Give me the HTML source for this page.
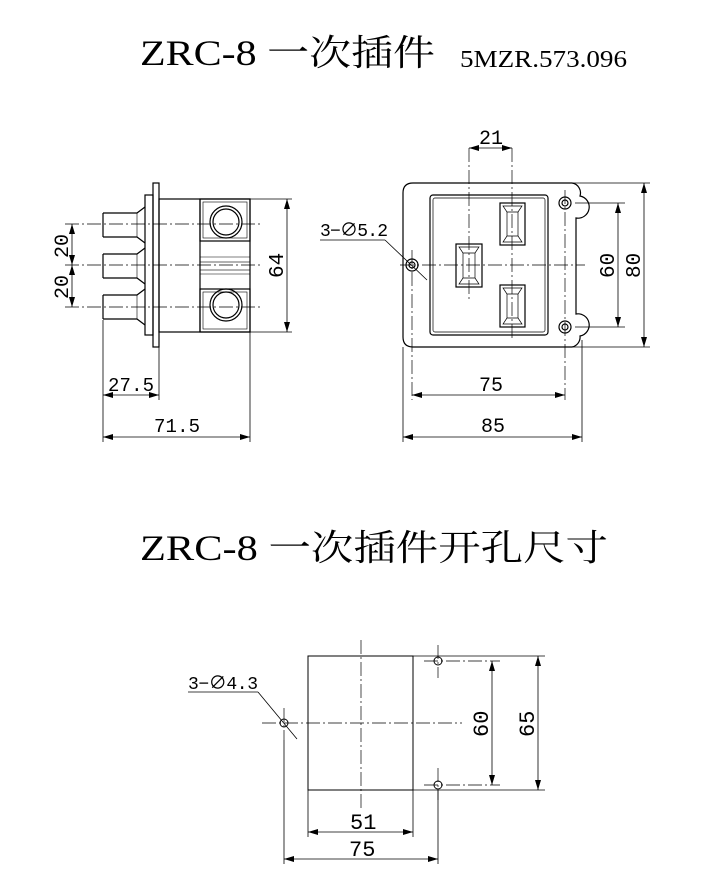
<!DOCTYPE html>
<html><head><meta charset="utf-8"><style>
html,body{margin:0;padding:0;background:#fff;}
svg{display:block}
text{font-family:"Liberation Serif","Noto Serif CJK SC",serif;fill:#000}
.d{font-family:"Liberation Mono","Noto Sans CJK SC",monospace}
</style></head><body>
<svg width="708" height="889" viewBox="0 0 708 889" xmlns="http://www.w3.org/2000/svg">
<defs>
<marker id="a" viewBox="0 0 10 6" refX="10" refY="3" markerWidth="10" markerHeight="6" orient="auto-start-reverse" markerUnits="userSpaceOnUse"><path d="M0,0 L10,3 L0,6z" fill="#000"/></marker>
</defs>
<text x="140" y="65" font-size="36" textLength="295" lengthAdjust="spacingAndGlyphs">ZRC-8 一次插件</text>
<text x="460" y="67" font-size="24" textLength="167" lengthAdjust="spacingAndGlyphs">5MZR.573.096</text>

<g stroke="#000" fill="none" stroke-width="1.2">
<rect x="153" y="183" width="6" height="164"/>
<rect x="145" y="195" width="8" height="140"/>
<rect x="159" y="199" width="91" height="133"/>
<line x1="200" y1="199" x2="200" y2="332"/>
<rect x="200" y="199" width="50" height="42"/>
<rect x="200" y="289" width="50" height="43"/>
<rect x="203" y="202" width="44" height="36" stroke-width="0.6"/>
<rect x="203" y="292" width="44" height="37" stroke-width="0.6"/>
<circle cx="226" cy="222" r="16"/><circle cx="226" cy="222" r="13"/>
<circle cx="226" cy="305" r="16"/><circle cx="226" cy="305" r="13"/>
<line x1="200" y1="257" x2="250" y2="257" stroke-width="0.6"/>
<line x1="200" y1="274" x2="250" y2="274" stroke-width="0.6"/>
<rect x="200" y="262" width="50" height="8" stroke-width="0.6"/>
<path d="M103,213 H137 L145,207 M103,237 H137 L145,243 M103,213 V237"/>
<path d="M103,254 H137 L145,248 M103,278 H137 L145,284 M103,254 V278"/>
<path d="M103,295 H137 L145,289 M103,319 H137 L145,325 M103,295 V319"/>
<line x1="137" y1="213" x2="137" y2="237" stroke-width="0.6"/>
<line x1="137" y1="254" x2="137" y2="278" stroke-width="0.6"/>
<line x1="137" y1="295" x2="137" y2="319" stroke-width="0.6"/>
</g>
<g stroke="#000" stroke-width="0.7" fill="none" stroke-dasharray="14,3,2,3">
<line x1="65" y1="224" x2="262" y2="224"/>
<line x1="65" y1="265" x2="262" y2="265"/>
<line x1="65" y1="307" x2="262" y2="307"/>
</g>
<g stroke="#000" stroke-width="0.8" fill="none">
<line x1="72" y1="224" x2="72" y2="265" marker-start="url(#a)" marker-end="url(#a)"/>
<line x1="72" y1="265" x2="72" y2="307" marker-start="url(#a)" marker-end="url(#a)"/>
<line x1="250" y1="199" x2="292" y2="199"/><line x1="250" y1="332" x2="292" y2="332"/>
<line x1="287" y1="199" x2="287" y2="332" marker-start="url(#a)" marker-end="url(#a)"/>
<line x1="103" y1="320" x2="103" y2="442"/>
<line x1="159" y1="347" x2="159" y2="400"/>
<line x1="250" y1="332" x2="250" y2="442"/>
<line x1="103" y1="395" x2="159" y2="395" marker-start="url(#a)" marker-end="url(#a)"/>
<line x1="103" y1="437" x2="250" y2="437" marker-start="url(#a)" marker-end="url(#a)"/>
</g>
<text class="d" x="108" y="391" font-size="19" textLength="46">27.5</text>
<text class="d" x="154" y="432" font-size="19" textLength="46">71.5</text>
<text class="d" font-size="20" transform="translate(68,258) rotate(-90)">20</text>
<text class="d" font-size="20" transform="translate(68,299) rotate(-90)">20</text>
<text class="d" font-size="21" transform="translate(283,278) rotate(-90)">64</text>

<g stroke="#000" fill="none" stroke-width="1.2">
<path d="M413,183 H572 A10,10 0 0 1 580,196 A10,10 0 0 1 576,218 V314 A10,10 0 0 1 580,336 A10,10 0 0 1 572,347 H413 Q403,347 403,337 V193 Q403,183 413,183Z"/>
<rect x="430" y="195" width="118" height="140" rx="3"/>
<rect x="433" y="198" width="112" height="134" rx="2" stroke-width="0.7"/>
<circle cx="565" cy="203" r="6"/><circle cx="565" cy="203" r="3"/>
<circle cx="565" cy="327" r="6"/><circle cx="565" cy="327" r="3"/>
<circle cx="412" cy="265" r="6"/><circle cx="412" cy="265" r="3"/>
<rect x="456" y="244" width="26" height="43"/>
<rect x="500" y="203" width="25" height="42"/>
<rect x="500" y="285" width="25" height="42"/>
<g stroke-width="0.7">
<path d="M459,247 H479 L475,253 V278 L479,284 H459 L463,278 V253Z M463,253 H475 M463,278 H475"/>
<path d="M503,206 H522 L518,212 V236 L522,242 H503 L507,236 V212Z M507,212 H518 M507,236 H518"/>
<path d="M503,288 H522 L518,294 V318 L522,324 H503 L507,318 V294Z M507,294 H518 M507,318 H518"/>
</g>
</g>
<g stroke="#000" stroke-width="0.7" fill="none" stroke-dasharray="14,3,2,3">
<line x1="400" y1="265" x2="585" y2="265"/>
<line x1="469" y1="148" x2="469" y2="300"/>
<line x1="512" y1="148" x2="512" y2="340"/>
<line x1="412" y1="250" x2="412" y2="400"/>
<line x1="565" y1="190" x2="565" y2="400"/>
</g>
<g stroke="#000" stroke-width="0.8" fill="none">
<line x1="469" y1="148" x2="512" y2="148" marker-start="url(#a)" marker-end="url(#a)"/>
<line x1="575" y1="203" x2="625" y2="203"/><line x1="575" y1="327" x2="625" y2="327"/>
<line x1="618" y1="203" x2="618" y2="327" marker-start="url(#a)" marker-end="url(#a)"/>
<line x1="572" y1="183" x2="650" y2="183"/><line x1="572" y1="347" x2="650" y2="347"/>
<line x1="644" y1="183" x2="644" y2="347" marker-start="url(#a)" marker-end="url(#a)"/>
<line x1="403" y1="347" x2="403" y2="442"/>
<line x1="582" y1="340" x2="582" y2="442"/>
<line x1="412" y1="395" x2="565" y2="395" marker-start="url(#a)" marker-end="url(#a)"/>
<line x1="403" y1="437" x2="582" y2="437" marker-start="url(#a)" marker-end="url(#a)"/>
<line x1="320" y1="240" x2="385" y2="240"/>
<line x1="385" y1="240" x2="427" y2="280"/>
</g>
<text class="d" x="479" y="144" font-size="20">21</text>
<text class="d" x="479" y="391" font-size="20">75</text>
<text class="d" x="481" y="432" font-size="20">85</text>
<text class="d" x="320" y="236" font-size="18" textLength="68">3−∅5.2</text>
<text class="d" font-size="21" transform="translate(614,278) rotate(-90)">60</text>
<text class="d" font-size="21" transform="translate(640,278) rotate(-90)">80</text>

<text x="140" y="560" font-size="36" textLength="468" lengthAdjust="spacingAndGlyphs">ZRC-8 一次插件开孔尺寸</text>

<g stroke="#000" fill="none" stroke-width="1">
<rect x="308" y="656" width="105" height="134"/>
<circle cx="438" cy="661" r="4"/>
<circle cx="438" cy="785" r="4"/>
<circle cx="284" cy="723" r="4"/>
</g>
<g stroke="#000" stroke-width="0.7" fill="none" stroke-dasharray="14,3,2,3">
<line x1="262" y1="723" x2="462" y2="723"/>
<line x1="361" y1="640" x2="361" y2="810"/>
<line x1="438" y1="645" x2="438" y2="678"/>
<line x1="438" y1="768" x2="438" y2="800"/>
<line x1="284" y1="708" x2="284" y2="740"/>
<line x1="424" y1="661" x2="500" y2="661"/>
<line x1="424" y1="785" x2="500" y2="785"/>
</g>
<g stroke="#000" stroke-width="0.8" fill="none">
<line x1="413" y1="656" x2="545" y2="656"/><line x1="413" y1="790" x2="545" y2="790"/>
<line x1="492" y1="661" x2="492" y2="785" marker-start="url(#a)" marker-end="url(#a)"/>
<line x1="538" y1="656" x2="538" y2="790" marker-start="url(#a)" marker-end="url(#a)"/>
<line x1="308" y1="790" x2="308" y2="837"/><line x1="413" y1="790" x2="413" y2="837"/>
<line x1="284" y1="740" x2="284" y2="864"/><line x1="438" y1="790" x2="438" y2="864"/>
<line x1="308" y1="832" x2="413" y2="832" marker-start="url(#a)" marker-end="url(#a)"/>
<line x1="284" y1="859" x2="438" y2="859" marker-start="url(#a)" marker-end="url(#a)"/>
<line x1="188" y1="692" x2="258" y2="692"/>
<line x1="258" y1="692" x2="297" y2="739"/>
</g>
<text class="d" x="350" y="829" font-size="22">51</text>
<text class="d" x="349" y="856" font-size="22">75</text>
<text class="d" x="188" y="689" font-size="18" textLength="70">3−∅4.3</text>
<text class="d" font-size="22" transform="translate(488,737) rotate(-90)">60</text>
<text class="d" font-size="22" transform="translate(534,737) rotate(-90)">65</text>
</svg>
</body></html>
